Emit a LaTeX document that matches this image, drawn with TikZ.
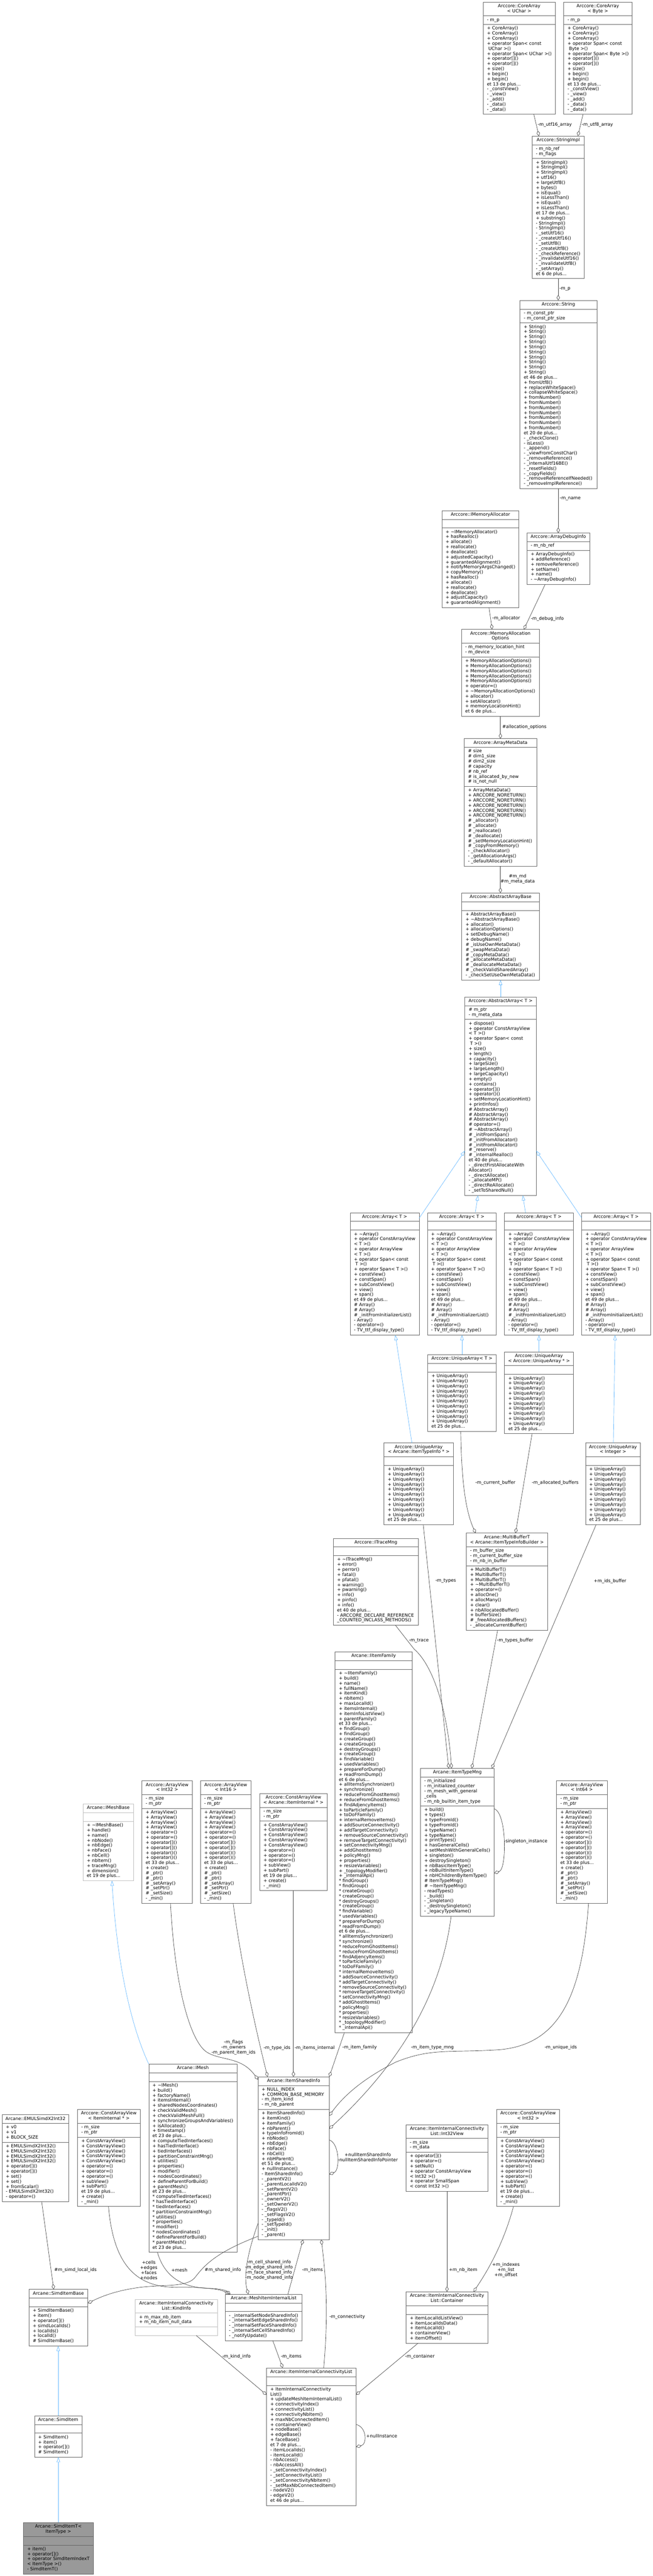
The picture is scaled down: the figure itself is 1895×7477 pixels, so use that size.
\documentclass[tikz,border=0pt]{standalone}
\usepackage{fontspec}
\setmainfont{DejaVu Sans}
\usetikzlibrary{arrows.meta,fit,calc,backgrounds}
\definecolor{bord}{HTML}{666666}
\definecolor{lbord}{HTML}{BFBFBF}
\definecolor{edg}{HTML}{404040}
\definecolor{inhc}{HTML}{63B8FF}
\definecolor{selfc}{HTML}{999999}
\newcommand\ff{\fontsize{6.5}{7.35}\selectfont}
\newdimen\hdrw
\makeatletter
\def\lb@stop{\lb@stop}
\def\lb@loop#1|{\def\lb@arg{#1}\ifx\lb@arg\lb@stop\else\hbox{\strut#1}\expandafter\lb@loop\fi}
\def\hb@loop#1|{\def\lb@arg{#1}\ifx\lb@arg\lb@stop\else\hbox to\hdrw{\hss\strut#1\hss}\expandafter\hb@loop\fi}
\newcommand\Lines[1]{\vbox{\offinterlineskip\expandafter\lb@loop#1|\lb@stop|}}
\newcommand\HLines[1]{\vbox{\offinterlineskip\hb@loop#1|\lb@stop|}}
\makeatother
\tikzset{
  x=0.5pt, y=-0.5pt,
  part/.style={inner xsep=5.5pt, inner ysep=2.625pt, outer sep=0pt, font=\ff, text=black},
  hpart/.style={part, inner xsep=2pt},
  box/.style={draw=bord, line width=0.5pt, inner sep=0pt, outer sep=0pt},
  lbox/.style={draw=lbord},
  selfbox/.style={fill=selfc},
  sepl/.style={draw=bord, line width=0.5pt},
  agg/.style={draw=edg, line width=0.5pt, -{Diamond[open,length=8pt,width=4.8pt]}},
  inh/.style={draw=inhc, line width=0.5pt, -{Triangle[open,length=7.5pt,width=5pt]}},
  lbl/.style={font=\ff, inner sep=0pt, text=black, anchor=west},
  mlbl/.style={font=\ff, inner sep=0pt, text=black, align=center, anchor=center},
}
% #1 box options, #2 name, #3 x, #4 y, #5 width, #6 header, #7 attributes, #8 methods
\newcommand\cls[8][]{%
  \hdrw=#5pt \hdrw=0.5\hdrw \advance\hdrw by -4pt
  \coordinate (#2-nw) at (#3,#4);
  \node[hpart, anchor=north west] (#2-h) at (#2-nw) {\HLines{#6}};
  \node[part, anchor=north west] (#2-a) at (#2-h.south west) {\Lines{#7}};
  \node[part, anchor=north west] (#2-m) at (#2-a.south west) {\Lines{#8}};
  \coordinate (#2-se) at ($(#2-m.south west)+(#5,0)$);
  \begin{pgfonlayer}{background}
  \node[box, fit=(#2-nw)(#2-se), #1] (#2) {};
  \end{pgfonlayer}
  \draw[sepl, #1] (#2-h.south west) -- ++(#5,0);
  \draw[sepl, #1] (#2-a.south west) -- ++(#5,0);
}
\begin{document}
\catcode`\_=12
\def\ArrM{+ \textasciitilde Array()|+ operator ConstArrayView|< T >()|+ operator ArrayView|< T >()|+ operator Span< const| T >()|+ operator Span< T >()|+ constView()|+ constSpan()|+ subConstView()|+ view()|+ span()|et 49 de plus...|\# Array()|\# Array()|\# _initFromInitializerList()|- Array()|- operator=()|- TV_ttf_display_type()}
\def\UAM{+ UniqueArray()|+ UniqueArray()|+ UniqueArray()|+ UniqueArray()|+ UniqueArray()|+ UniqueArray()|+ UniqueArray()|+ UniqueArray()|+ UniqueArray()|+ UniqueArray()|et 25 de plus...}
\def\AVM{+ ArrayView()|+ ArrayView()|+ ArrayView()|+ ArrayView()|+ operator=()|+ operator=()|+ operator[]()|+ operator[]()|+ operator()()|+ operator()()|et 33 de plus...|+ create()|\# _ptr()|\# _ptr()|\# _setArray()|\# _setPtr()|\# _setSize()|- _min()}
\def\CAVM{+ ConstArrayView()|+ ConstArrayView()|+ ConstArrayView()|+ ConstArrayView()|+ ConstArrayView()|+ operator=()|+ operator=()|+ operator=()|+ subView()|+ subPart()|et 19 de plus...|+ create()|- _min()}
\begin{tikzpicture}
\begin{pgfonlayer}{background}
\fill[white] (0,0) rectangle (1895,7477);
\end{pgfonlayer}
\useasboundingbox (0,0) rectangle (1895,7477);

% ---------------- classes ----------------
\cls{coreU}{1403}{6}{209}{Arccore::CoreArray|< UChar >}{- m_p}{+ CoreArray()|+ CoreArray()|+ CoreArray()|+ operator Span< const| UChar >()|+ operator Span< UChar >()|+ operator[]()|+ operator[]()|+ size()|+ begin()|+ begin()|et 13 de plus...|- _constView()|- _view()|- _add()|- _data()|- _data()}
\cls{coreB}{1637}{6}{198}{Arccore::CoreArray|< Byte >}{- m_p}{+ CoreArray()|+ CoreArray()|+ CoreArray()|+ operator Span< const| Byte >()|+ operator Span< Byte >()|+ operator[]()|+ operator[]()|+ size()|+ begin()|+ begin()|et 13 de plus...|- _constView()|- _view()|- _add()|- _data()|- _data()}
\cls{strImpl}{1545}{395}{152}{Arccore::StringImpl}{- m_nb_ref|- m_flags}{+ StringImpl()|+ StringImpl()|+ StringImpl()|+ utf16()|+ largeUtf8()|+ bytes()|+ isEqual()|+ isLessThan()|+ isEqual()|+ isLessThan()|et 17 de plus...|+ substring()|- StringImpl()|- StringImpl()|- _setUtf16()|- _createUtf16()|- _setUtf8()|- _createUtf8()|- _checkReference()|- _invalidateUtf16()|- _invalidateUtf8()|- _setArray()|et 6 de plus...}
\cls{str}{1510}{872}{223}{Arccore::String}{- m_const_ptr|- m_const_ptr_size}{+ String()|+ String()|+ String()|+ String()|+ String()|+ String()|+ String()|+ String()|+ String()|+ String()|et 46 de plus...|+ fromUtf8()|+ replaceWhiteSpace()|+ collapseWhiteSpace()|+ fromNumber()|+ fromNumber()|+ fromNumber()|+ fromNumber()|+ fromNumber()|+ fromNumber()|+ fromNumber()|et 20 de plus...|- _checkClone()|- isLess()|- _append()|- _viewFromConstChar()|- _removeReference()|- _internalUtf16BE()|- _resetFields()|- _copyFields()|- _removeReferenceIfNeeded()|- _removeImplReference()}
\cls{imalloc}{1283}{1482}{224}{Arccore::IMemoryAllocator}{}{+ \textasciitilde IMemoryAllocator()|+ hasRealloc()|+ allocate()|+ reallocate()|+ deallocate()|+ adjustedCapacity()|+ guarantedAlignment()|+ notifyMemoryArgsChanged()|+ copyMemory()|+ hasRealloc()|+ allocate()|+ reallocate()|+ deallocate()|+ adjustCapacity()|+ guarantedAlignment()}
\cls{dbg}{1530}{1547}{182}{Arccore::ArrayDebugInfo}{- m_nb_ref}{+ ArrayDebugInfo()|+ addReference()|+ removeReference()|+ setName()|+ name()|- \textasciitilde ArrayDebugInfo()}
\cls{mao}{1340}{1827}{226}{Arccore::MemoryAllocation|Options}{- m_memory_location_hint|- m_device}{+ MemoryAllocationOptions()|+ MemoryAllocationOptions()|+ MemoryAllocationOptions()|+ MemoryAllocationOptions()|+ MemoryAllocationOptions()|+ operator=()|+ \textasciitilde MemoryAllocationOptions()|+ allocator()|+ setAllocator()|+ memoryLocationHint()|et 6 de plus...}
\cls{amd}{1348}{2144}{211}{Arccore::ArrayMetaData}{\# size|\# dim1_size|\# dim2_size|\# capacity|\# nb_ref|\# is_allocated_by_new|\# is_not_null}{+ ArrayMetaData()|+ ARCCORE_NORETURN()|+ ARCCORE_NORETURN()|+ ARCCORE_NORETURN()|+ ARCCORE_NORETURN()|+ ARCCORE_NORETURN()|\# _allocator()|\# _allocate()|\# _reallocate()|\# _deallocate()|\# _setMemoryLocationHint()|\# _copyFromMemory()|- _checkAllocator()|- _getAllocationArgs()|- _defaultAllocator()}
\cls{aab}{1341}{2592}{225}{Arccore::AbstractArrayBase}{}{+ AbstractArrayBase()|+ \textasciitilde AbstractArrayBase()|+ allocator()|+ allocationOptions()|+ setDebugName()|+ debugName()|\# _isUseOwnMetaData()|\# _swapMetaData()|\# _copyMetaData()|\# _allocateMetaData()|\# _deallocateMetaData()|\# _checkValidSharedArray()|- _checkSetUseOwnMetaData()}
\cls{aa}{1350}{2894}{207}{Arccore::AbstractArray< T >}{\# m_ptr|- m_meta_data}{+ dispose()|+ operator ConstArrayView|< T >()|+ operator Span< const| T >()|+ size()|+ length()|+ capacity()|+ largeSize()|+ largeLength()|+ largeCapacity()|+ empty()|+ contains()|+ operator[]()|+ operator()()|+ setMemoryLocationHint()|+ printInfos()|\# AbstractArray()|\# AbstractArray()|\# AbstractArray()|\# operator=()|\# \textasciitilde AbstractArray()|\# _initFromSpan()|\# _initFromAllocator()|\# _initFromAllocator()|\# _reserve()|\# _internalRealloc()|et 40 de plus...|- _directFirstAllocateWith|Allocator()|- _directAllocate()|- _allocateMP()|- _directReAllocate()|- _setToSharedNull()}
\cls{arr1}{1017}{3520}{200}{Arccore::Array< T >}{}{\ArrM}
\cls{arr2}{1241}{3520}{200}{Arccore::Array< T >}{}{\ArrM}
\cls{arr3}{1465}{3520}{200}{Arccore::Array< T >}{}{\ArrM}
\cls{arr4}{1689}{3520}{200}{Arccore::Array< T >}{}{\ArrM}
\cls{uaT}{1242}{3932}{199}{Arccore::UniqueArray< T >}{}{\UAM}
\cls{uaUA}{1465}{3924}{200}{Arccore::UniqueArray|< Arccore::UniqueArray * >}{}{\UAM}
\cls{uaITI}{1115}{4188}{202}{Arccore::UniqueArray|< Arcane::ItemTypeInfo * >}{}{\UAM}
\cls{uaInt}{1700}{4188}{160}{Arccore::UniqueArray|< Integer >}{}{\UAM}
\cls{mb}{1354}{4450}{236}{Arcane::MultiBufferT|< Arcane::ItemTypeInfoBuilder >}{- m_buffer_size|- m_current_buffer_size|- m_nb_in_buffer}{+ MultiBufferT()|+ MultiBufferT()|+ MultiBufferT()|+ \textasciitilde MultiBufferT()|+ operator=()|+ allocOne()|+ allocMany()|+ clear()|+ nbAllocatedBuffer()|+ bufferSize()|\# _freeAllocatedBuffers()|- _allocateCurrentBuffer()}
\cls{itm}{968}{4465}{247}{Arccore::ITraceMng}{}{+ \textasciitilde ITraceMng()|+ error()|+ perror()|+ fatal()|+ pfatal()|+ warning()|+ pwarning()|+ info()|+ pinfo()|+ info()|et 40 de plus...|- ARCCORE_DECLARE_REFERENCE|_COUNTED_INCLASS_METHODS()}
\cls{iif}{973}{4795}{224}{Arcane::IItemFamily}{}{+ \textasciitilde IItemFamily()|+ build()|+ name()|+ fullName()|+ itemKind()|+ nbItem()|+ maxLocalId()|+ itemsInternal()|+ itemInfoListView()|+ parentFamily()|et 33 de plus...|+ findGroup()|+ findGroup()|+ createGroup()|+ createGroup()|+ destroyGroups()|+ createGroup()|+ findVariable()|+ usedVariables()|+ prepareForDump()|+ readFromDump()|et 6 de plus...|+ allItemsSynchronizer()|+ synchronize()|+ reduceFromGhostItems()|+ reduceFromGhostItems()|+ findAdjencyItems()|+ toParticleFamily()|+ toDoFFamily()|+ internalRemoveItems()|+ addSourceConnectivity()|+ addTargetConnectivity()|+ removeSourceConnectivity()|+ removeTargetConnectivity()|+ setConnectivityMng()|+ addGhostItems()|+ policyMng()|+ properties()|+ resizeVariables()|+ _topologyModifier()|+ _internalApi()|* findGroup()|* findGroup()|* createGroup()|* createGroup()|* destroyGroups()|* createGroup()|* findVariable()|* usedVariables()|* prepareForDump()|* readFromDump()|et 6 de plus...|* allItemsSynchronizer()|* synchronize()|* reduceFromGhostItems()|* reduceFromGhostItems()|* findAdjencyItems()|* toParticleFamily()|* toDoFFamily()|* internalRemoveItems()|* addSourceConnectivity()|* addTargetConnectivity()|* removeSourceConnectivity()|* removeTargetConnectivity()|* setConnectivityMng()|* addGhostItems()|* policyMng()|* properties()|* resizeVariables()|* _topologyModifier()|* _internalApi()}
\cls{itmng}{1221}{5133}{214}{Arcane::ItemTypeMng}{- m_initialized|- m_initialized_counter|- m_mesh_with_general|_cells|- m_nb_builtin_item_type}{+ build()|+ types()|+ typeFromId()|+ typeFromId()|+ typeName()|+ typeName()|+ printTypes()|+ hasGeneralCells()|+ setMeshWithGeneralCells()|+ singleton()|+ destroySingleton()|+ nbBasicItemType()|+ nbBuiltInItemType()|+ nbHChildrenByItemType()|\# ItemTypeMng()|\# \textasciitilde ItemTypeMng()|- readTypes()|- _build()|- _singleton()|- _destroySingleton()|- _legacyTypeName()}
\cls{av64}{1616}{5169}{147}{Arccore::ArrayView|< Int64 >}{- m_size|- m_ptr}{\AVM}
\cls{av32}{412}{5169}{147}{Arccore::ArrayView|< Int32 >}{- m_size|- m_ptr}{\AVM}
\cls{av16}{582}{5169}{147}{Arccore::ArrayView|< Int16 >}{- m_size|- m_ptr}{\AVM}
\cls{cavII}{754}{5206}{196}{Arccore::ConstArrayView|< Arcane::ItemInternal * >}{- m_size|- m_ptr}{\CAVM}
\cls[lbox]{imb}{241}{5236}{147}{Arcane::IMeshBase}{}{+ \textasciitilde IMeshBase()|+ handle()|+ name()|+ nbNode()|+ nbEdge()|+ nbFace()|+ nbCell()|+ nbItem()|+ traceMng()|+ dimension()|et 19 de plus...}
\cls{imesh}{432}{5991}{256}{Arcane::IMesh}{}{+ \textasciitilde IMesh()|+ build()|+ factoryName()|+ itemsInternal()|+ sharedNodesCoordinates()|+ checkValidMesh()|+ checkValidMeshFull()|+ synchronizeGroupsAndVariables()|+ isAllocated()|+ timestamp()|et 23 de plus...|+ computeTiedInterfaces()|+ hasTiedInterface()|+ tiedInterfaces()|+ partitionConstraintMng()|+ utilities()|+ properties()|+ modifier()|+ nodesCoordinates()|+ defineParentForBuild()|+ parentMesh()|et 23 de plus...|* computeTiedInterfaces()|* hasTiedInterface()|* tiedInterfaces()|* partitionConstraintMng()|* utilities()|* properties()|* modifier()|* nodesCoordinates()|* defineParentForBuild()|* parentMesh()|et 23 de plus...}
\cls{isi}{749}{6028}{207}{Arcane::ItemSharedInfo}{+ NULL_INDEX|+ COMMON_BASE_MEMORY|- m_item_kind|- m_nb_parent}{+ ItemSharedInfo()|+ itemKind()|+ itemFamily()|+ nbParent()|+ typeInfoFromId()|+ nbNode()|+ nbEdge()|+ nbFace()|+ nbCell()|+ nbHParent()|et 51 de plus...|+ nullInstance()|- ItemSharedInfo()|- _parentV2()|- _parentLocalIdV2()|- _setParentV2()|- _parentPtr()|- _ownerV2()|- _setOwnerV2()|- _flagsV2()|- _setFlagsV2()|- _typeId()|- _setTypeId()|- _init()|- _parent()}
\cls{emul}{6}{6138}{194}{Arcane::EMULSimdX2Int32}{+ v0|+ v1|+ BLOCK_SIZE}{+ EMULSimdX2Int32()|+ EMULSimdX2Int32()|+ EMULSimdX2Int32()|+ EMULSimdX2Int32()|+ operator[]()|+ operator[]()|+ set()|+ set()|+ fromScalar()|- EMULSimdX2Int32()|- operator=()}
\cls{cavI}{225}{6123}{182}{Arccore::ConstArrayView|< ItemInternal * >}{- m_size|- m_ptr}{\CAVM}
\cls{sib}{84}{6645}{171}{Arcane::SimdItemBase}{}{+ SimdItemBase()|+ item()|+ operator[]()|+ simdLocalIds()|+ localIds()|+ localId()|\# SimdItemBase()}
\cls[lbox]{kind}{393}{6674}{238}{Arcane::ItemInternalConnectivity|List::KindInfo}{+ m_max_nb_item|+ m_nb_item_null_data}{}
\cls{miil}{654}{6659}{223}{Arcane::MeshItemInternalList}{}{- _internalSetNodeSharedInfo()|- _internalSetEdgeSharedInfo()|- _internalSetFaceSharedInfo()|- _internalSetCellSharedInfo()|- _notifyUpdate()}
\cls{iicl}{774}{6873}{260}{Arcane::ItemInternalConnectivityList}{}{+ ItemInternalConnectivity|List()|+ updateMeshItemInternalList()|+ connectivityIndex()|+ connectivityList()|+ connectivityNbItem()|+ maxNbConnectedItem()|+ containerView()|+ nodeBase()|+ edgeBase()|+ faceBase()|et 7 de plus...|- itemLocalIds()|- itemLocalId()|- nbAccess()|- nbAccessAll()|- _setConnectivityIndex()|- _setConnectivityList()|- _setConnectivityNbItem()|- _setMaxNbConnectedItem()|- nodeV2()|- edgeV2()|et 46 de plus...}
\cls{i32v}{1179}{6167}{238}{Arcane::ItemInternalConnectivity|List::Int32View}{- m_size|- m_data}{+ operator[]()|+ operator=()|+ setNull()|+ operator ConstArrayView|< Int32 >()|+ operator SmallSpan|< const Int32 >()}
\cls{cav32}{1442}{6123}{183}{Arccore::ConstArrayView|< Int32 >}{- m_size|- m_ptr}{\CAVM}
\cls{cont}{1179}{6652}{238}{Arcane::ItemInternalConnectivity|List::Container}{}{+ itemLocalIdListView()|+ itemLocalIdsData()|+ itemLocalId()|+ containerView()|+ itemOffset()}
\cls{simdItem}{100}{7012}{138}{Arcane::SimdItem}{}{+ SimdItem()|+ item()|+ operator[]()|\# SimdItem()}
\cls[selfbox]{simdT}{68}{7322}{203}{Arcane::SimdItemT<|ItemType >}{}{+ item()|+ operator[]()|+ operator SimdItemIndexT|< ItemType >()|- SimdItemT()}

% ---------------- aggregation edges ----------------
\draw[agg] (coreU.south -| 1550,0) -- (strImpl.north -| 1565,0);
\draw[agg] (coreB.south -| 1693,0) -- (strImpl.north -| 1678,0);
\draw[agg] (strImpl.south) -- (strImpl.south |- str.north);
\draw[agg] (str.south -| 1621,0) -- (dbg.north -| 1621,0);
\draw[agg] (imalloc.south -| 1420,0) -- (mao.north -| 1429,0);
\draw[agg] (dbg.south -| 1583,0) -- (mao.north -| 1521,0);
\draw[agg] (mao.south -| 1453,0) -- (amd.north -| 1453,0);
\draw[agg] (amd.south -| 1453,0) -- (aab.north -| 1453,0);
\draw[agg] (uaT.south -| 1338,0) .. controls (1340,4300) and (1352,4385) .. (mb.north -| 1381,0);
\draw[agg] (uaUA.south -| 1545,0) -- (mb.north -| 1497,0);
\draw[agg] (uaITI.south -| 1229,0) -- (itmng.north -| 1303,0);
\draw[agg] (uaInt.south -| 1731,0) -- (itmng.north -| 1428,0);
\draw[agg] (mb.south -| 1445,0) -- (itmng.north -| 1370,0);
\draw[agg] (itm.south -| 1148,0) -- (1202,4786) .. controls (1265,4840) and (1302,4990) .. (itmng.north -| 1311,0);
\draw[agg] (itmng.east |- 0,5250) .. controls (1472,5262) and (1472,5425) .. (itmng.east |- 0,5437);
\draw[agg] (iif.south -| 1000,0) -- (isi.north east);
\draw[agg] (itmng.south -| 1310,0) .. controls (1280,5800) and (1150,6000) .. (isi.east |- 0,6179);
\draw[agg] (av64.south -| 1709,0) .. controls (1690,5800) and (1620,5940) .. (1440,5950) .. controls (1300,5958) and (1250,5945) .. (1150,5985) .. controls (1060,6030) and (1000,6080) .. (isi.east |- 0,6141);
\draw[agg] (isi.east |- 0,6211) .. controls (987,6222) and (987,6300) .. (isi.east |- 0,6311);
\draw[agg] (iicl.north -| 940,0) .. controls (955,6700) and (945,6600) .. (isi.south -| 933,0);
\draw[agg] (miil.north -| 836,0) -- (isi.south -| 880,0);
\draw[agg] (av32.south -| 495,0) .. controls (510,5800) and (560,5930) .. (600,5956) .. controls (640,5982) and (700,5968) .. (isi.west |- 0,6036);
\draw[agg] (av16.south -| 677,0) .. controls (700,5700) and (745,5900) .. (isi.north -| 777,0);
\draw[agg] (cavII.south -| 852,0) -- (isi.north -| 852,0);
\draw[agg] (emul.south -| 121,0) -- (sib.north -| 156,0);
\draw[agg] (cavI.south -| 315,0) .. controls (330,6580) and (400,6640) .. (515,6639) .. controls (600,6638) and (640,6645) .. (miil.north -| 666,0);
\draw[agg] (imesh.south -| 457,0) .. controls (475,6600) and (520,6640) .. (606,6642) .. controls (640,6643) and (655,6648) .. (miil.north -| 669,0);
\draw[agg] (isi.west |- 0,6491) .. controls (620,6540) and (590,6580) .. (565,6612) .. controls (540,6640) and (470,6630) .. (400,6640) .. controls (330,6650) and (290,6668) .. (sib.east |- 0,6685);
\draw[agg] (isi.west |- 0,6454) .. controls (725,6520) and (705,6600) .. (miil.north -| 721,0);
\draw[agg] (kind.south -| 570,0) -- (iicl.west |- 0,6951);
\draw[agg] (miil.south -| 792,0) -- (iicl.north -| 821,0);
\draw[agg] (i32v.south) -- (i32v.south |- cont.north);
\draw[agg] (cav32.south -| 1491,0) .. controls (1460,6520) and (1410,6600) .. (cont.north -| 1375,0);
\draw[agg] (cont.south -| 1214,0) -- (iicl.east |- 0,6951);
\draw[agg] (iicl.east |- 0,7037) .. controls (1066,7045) and (1066,7095) .. (iicl.east |- 0,7102);

% ---------------- inheritance edges ----------------
\draw[inh] (aa.north) -- (aab.south);
\draw[inh] (arr1.east |- 0,3536) -- (aa.west |- 0,3340);
\draw[inh] (arr2.north -| 1380,0) -- (aa.south -| 1388,0);
\draw[inh] (arr3.north -| 1526,0) -- (aa.south -| 1518,0);
\draw[inh] (arr4.west |- 0,3535) -- (aa.east |- 0,3340);
\draw[inh] (uaT.north) -- (uaT.north |- arr2.south);
\draw[inh] (uaUA.north) -- (uaUA.north |- arr3.south);
\draw[inh] (uaITI.north -| 1196,0) -- (arr1.south -| 1148,0);
\draw[inh] (uaInt.north -| 1781,0) -- (arr4.south -| 1786,0);
\draw[inh] (imesh.north west) .. controls (380,5880) and (340,5700) .. (imb.south -| 325,0);
\draw[inh] (simdItem.north) -- (simdItem.north |- sib.south);
\draw[inh] (simdT.north) -- (simdT.north |- simdItem.south);

% ---------------- edge labels ----------------
\node[lbl] (l1) at (1561,362) {-m_utf16_array};
\node[lbl] (l2) at (1689,362) {-m_utf8_array};
\node[lbl] (l3) at (1624,839) {-m_p};
\node[lbl] (l4) at (1625,1448) {-m_name};
\node[lbl] (l5) at (1429,1795) {-m_allocator};
\node[lbl] (l6) at (1541,1797) {-m_debug_info};
\node[lbl] (l7) at (1458,2110) {\#allocation_options};
\node[mlbl] (l8) at (1503,2551) {\#m_md\\\#m_meta_data};
\node[lbl] (l9) at (1380,4304) {-m_current_buffer};
\node[lbl] (l10) at (1544,4304) {-m_allocated_buffers};
\node[lbl] (l11) at (1264,4589) {-m_types};
\node[lbl] (l12) at (1724,4589) {+m_ids_buffer};
\node[lbl] (l13) at (1187,4762) {-m_trace};
\node[lbl] (l14) at (1443,4762) {-m_types_buffer};
\node[lbl] (l15) at (1463,5345) {-singleton_instance};
\node[lbl] (l16) at (994,5943) {-m_item_family};
\node[lbl] (l17) at (1193,5943) {-m_item_type_mng};
\node[lbl] (l18) at (1581,5943) {-m_unique_ids};
\node[mlbl] (l19) at (1068,6262) {+nullItemSharedInfo\\-nullItemSharedInfoPointer};
\node[mlbl] (l20) at (678,5943) {-m_flags\\-m_owners\\-m_parent_item_ids};
\node[lbl] (l21) at (765,5944) {-m_type_ids};
\node[lbl] (l22) at (855,5944) {-m_items_internal};
\node[lbl] (l23) at (157,6589) {\#m_simd_local_ids};
\node[mlbl] (l24) at (432,6589) {+cells\\+edges\\+faces\\+nodes};
\node[lbl] (l25) at (497,6589) {+mesh};
\node[lbl] (l26) at (594,6589) {\#m_shared_info};
\node[mlbl] (l27) at (781,6589) {-m_cell_shared_info\\-m_edge_shared_info\\-m_face_shared_info\\-m_node_shared_info};
\node[lbl] (l28) at (877,6589) {-m_items};
\node[lbl] (l29) at (956,6725) {-m_connectivity};
\node[lbl] (l30) at (645,6840) {-m_kind_info};
\node[lbl] (l31) at (815,6840) {-m_items};
\node[lbl] (l32) at (1303,6589) {+m_nb_item};
\node[mlbl] (l33) at (1469,6589) {+m_indexes\\+m_list\\+m_offset};
\node[lbl] (l34) at (1176,6840) {-m_container};
\node[lbl] (l35) at (1063,7071) {+nullInstance};
\end{tikzpicture}
\end{document}
